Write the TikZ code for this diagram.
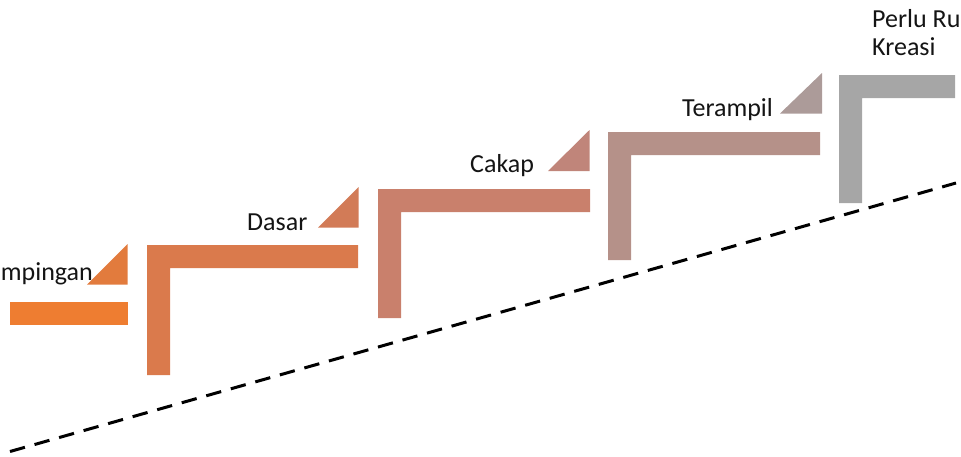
\documentclass[tikz,border=0pt]{standalone}
\usepackage{fontspec}
\setmainfont{Carlito}
\definecolor{cA}{HTML}{EE7D31}
\definecolor{cB}{HTML}{E27B3D}
\definecolor{cC}{HTML}{DA7A4C}
\definecolor{cD}{HTML}{D27B57}
\definecolor{cE}{HTML}{C9806C}
\definecolor{cF}{HTML}{C0857A}
\definecolor{cG}{HTML}{B59189}
\definecolor{cH}{HTML}{AC9B99}
\definecolor{cI}{HTML}{A6A6A6}
\definecolor{txt}{HTML}{141414}
\tikzset{
  lbl/.style={inner sep=0pt, text=txt, font=\fontsize{26}{29}\selectfont},
  guide/.style={draw=black, line width=3pt, dash pattern=on 15.5pt off 10pt},
}
\begin{document}
\begin{tikzpicture}[x=1pt,y=-1pt]
\useasboundingbox (0,0) rectangle (961,456);
% dashed guide line
\coordinate (gs) at (10,451.5);
\coordinate (ge) at (956,183);
\draw[guide] (gs) -- (ge);
% step 1 (only the bar is visible)
\fill[cA] (10,302) rectangle (127.5,325);
\fill[cB] (127.5,244) -- (127.5,284.5) -- (87,284.5) -- cycle;
% step 2
\fill[cC] (147,245) -- (358,245) -- (358,268) -- (170,268) -- (170,375) -- (147,375) -- cycle;
\fill[cD] (358.5,187) -- (358.5,227.5) -- (318,227.5) -- cycle;
% step 3
\fill[cE] (378,189) -- (590,189) -- (590,212) -- (401,212) -- (401,318) -- (378,318) -- cycle;
\fill[cF] (589.5,130) -- (589.5,171) -- (548,171) -- cycle;
% step 4
\fill[cG] (608,132) -- (820,132) -- (820,155) -- (631,155) -- (631,260) -- (608,260) -- cycle;
\fill[cH] (822,73) -- (822,113.5) -- (780,113.5) -- cycle;
% step 5
\fill[cI] (839,75) -- (955,75) -- (955,98) -- (862,98) -- (862,203) -- (839,203) -- cycle;
% labels
\node[lbl, anchor=base east] (t1) at (93,280) {Pendampingan};
\node[lbl, anchor=base west] (t2) at (247,230) {Dasar};
\node[lbl, anchor=base west] (t3) at (470,172) {Cakap};
\node[lbl, anchor=base west] (t4) at (682,116) {Terampil};
\node[lbl, anchor=base west] (t5) at (872,27) {Perlu Ruang};
\node[lbl, anchor=base west] (t5b) at (872,55) {Kreasi};
\end{tikzpicture}
\end{document}
